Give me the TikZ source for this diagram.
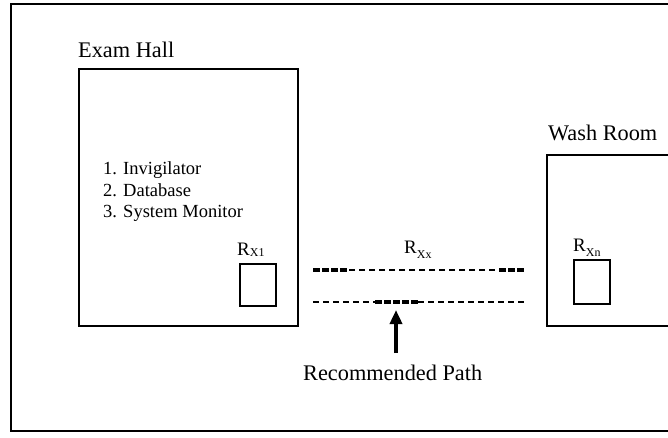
\documentclass[tikz,border=0pt]{standalone}
\usepackage{fontspec}
\setmainfont{Liberation Serif}
\usetikzlibrary{arrows.meta}
\newcommand{\subx}[2]{R\raisebox{#1}{\fontsize{12}{12}\selectfont #2}}
\begin{document}
\begin{tikzpicture}[x=1pt,y=-1pt,
  room/.style={draw,line width=2.4pt,anchor=north west,inner sep=0pt},
  lbl/.style={anchor=base west,inner sep=0pt,font=\fontsize{22.3}{24}\selectfont},
  item/.style={anchor=base west,inner sep=0pt,font=\fontsize{18.5}{21}\selectfont},
  rlbl/.style={anchor=base west,inner sep=0pt,font=\fontsize{19}{20}\selectfont},
  thin dash/.style={line width=2pt,dash pattern=on 6pt off 4pt},
  thick dash/.style={line width=3.6pt,dash pattern=on 6.5pt off 2.5pt},
  bigarrow/.style={line width=4pt,-{Triangle[length=14pt,width=12pt]}}]
\clip (0,0) rectangle (668,437);
\fill[white] (0,0) rectangle (668,437);
% outer frame
\draw[line width=2.6pt] (700,4) -- (11,4) -- (11,431) -- (700,431);
% rooms
\node[room,minimum width=219pt,minimum height=257pt] (hall) at (78,68) {};
\node[room,minimum width=160pt,minimum height=171pt] (wash) at (546,154) {};
\node[room,minimum width=36pt,minimum height=42pt] (rx1) at (239,263) {};
\node[room,minimum width=36pt,minimum height=44pt] (rxn) at (573,259) {};
% labels
\node[lbl] (hallname) at (78,57) {Exam Hall};
\node[lbl] (washname) at (548,140) {Wash Room};
\node[item] (it1) at (103,174) {1. Invigilator};
\node[item] (it2) at (103,196) {2. Database};
\node[item] (it3) at (103,217) {3. System Monitor};
\node[rlbl] (rx1lbl) at (237,255) {\subx{-1pt}{X1}};
\node[rlbl] (rxxlbl) at (404,253) {\subx{-5pt}{Xx}};
\node[rlbl] (rxnlbl) at (573,251) {\subx{-5pt}{Xn}};
\node[lbl] (rec) at (303,380) {Recommended Path};
% paths
\coordinate (a1) at (313,270); \coordinate (a2) at (349,270);
\coordinate (a3) at (499,270); \coordinate (a4) at (525,270);
\coordinate (b1) at (313,302); \coordinate (b2) at (375,302);
\coordinate (b3) at (418,302); \coordinate (b4) at (525,302);
\draw[thick dash] (a1) -- (a2);
\draw[thin dash] (a2) -- (a3);
\draw[thick dash] (a3) -- (a4);
\draw[thin dash] (b1) -- (b2);
\draw[thick dash] (b2) -- (b3);
\draw[thin dash] (b3) -- (b4);
% arrow
\coordinate (arrtail) at (396,353);
\coordinate (arrtip) at (396,310);
\draw[bigarrow] (arrtail) -- (arrtip);
\end{tikzpicture}
\end{document}
